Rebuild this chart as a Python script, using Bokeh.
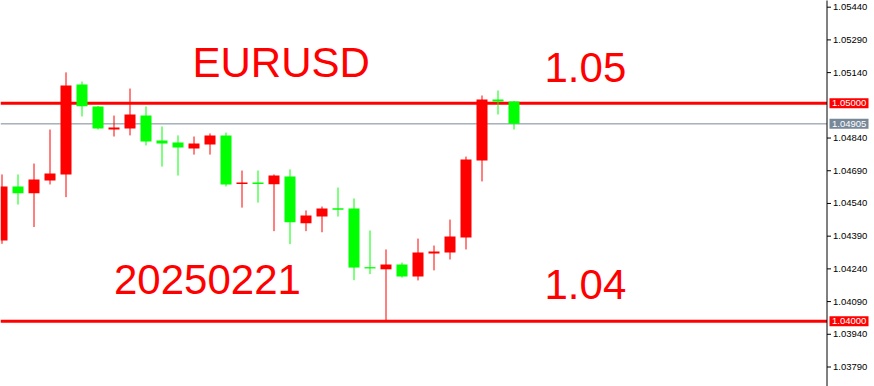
from bokeh.plotting import figure
from bokeh.models import Range1d, Label, ColumnDataSource
from bokeh.core.properties import value
from bokeh.embed import file_html
from bokeh.resources import INLINE

# EURUSD candles (oldest first)
opens = [1.04370, 1.04618, 1.04587, 1.04645, 1.04673, 1.05086, 1.04985, 1.04879, 1.04884, 1.04943,
         1.04829, 1.04820, 1.04792, 1.04810, 1.04852, 1.04629, 1.04636, 1.04628, 1.04664, 1.04449,
         1.04480, 1.04518, 1.04517, 1.04248, 1.04238, 1.04260, 1.04205, 1.04310, 1.04315, 1.04384,
         1.04737, 1.05017, 1.05008]
highs = [1.04673, 1.04673, 1.04723, 1.04879, 1.05141, 1.05099, 1.04987, 1.04943, 1.05067, 1.04985,
         1.04893, 1.04852, 1.04847, 1.04861, 1.04865, 1.04691, 1.04691, 1.04673, 1.04696, 1.04508,
         1.04526, 1.04613, 1.04563, 1.04416, 1.04329, 1.04269, 1.04379, 1.04347, 1.04466, 1.04755,
         1.05035, 1.05058, 1.05010]
lows = [1.04355, 1.04535, 1.04432, 1.04627, 1.04569, 1.04939, 1.04879, 1.04847, 1.04852, 1.04806,
        1.04709, 1.04668, 1.04764, 1.04764, 1.04618, 1.04521, 1.04544, 1.04413, 1.04353, 1.04413,
        1.04408, 1.04480, 1.04188, 1.04216, 1.04003, 1.04200, 1.04187, 1.04233, 1.04283, 1.04329,
        1.04641, 1.04948, 1.04879]
closes = [1.04618, 1.04587, 1.04650, 1.04677, 1.05081, 1.04986, 1.04884, 1.04888, 1.04948, 1.04824,
          1.04815, 1.04797, 1.04815, 1.04852, 1.04627, 1.04636, 1.04629, 1.04668, 1.04454, 1.04485,
          1.04517, 1.04511, 1.04246, 1.04242, 1.04260, 1.04205, 1.04315, 1.04320, 1.04388, 1.04742,
          1.05017, 1.05008, 1.04905]

price_ticks = [1.03790, 1.03940, 1.04090, 1.04240, 1.04390, 1.04540, 1.04690, 1.04840,
               1.05140, 1.05290, 1.05440]
level_high = 1.05000
level_low = 1.04000
last_price = closes[-1]

symbol = "EURUSD"
date_text = "20250221"
high_text = "1.05"
low_text = "1.04"

UP = "#ff0000"
DOWN = "#00ff00"
GRAY = "#778899"
FONT = "Liberation Sans"

# horizontal layout: 16 px per bar, price scale strip on the right
BAR_PX = 16.0
X0 = -0.09375
W, H = 874, 386


def px(sx):
    """x position (in bar units) of a horizontal pixel offset"""
    return X0 + sx / BAR_PX


axis_x = px(826.5)

idx = list(range(len(opens)))
colors = [UP if c >= o else DOWN for o, c in zip(opens, closes)]
src = ColumnDataSource(dict(
    x=idx, open=opens, high=highs, low=lows, close=closes,
    top=[max(o, c) for o, c in zip(opens, closes)],
    bottom=[min(o, c) for o, c in zip(opens, closes)],
    color=colors,
))

p = figure(width=W, height=H, output_backend="svg", toolbar_location=None,
           x_axis_location=None, y_axis_location=None,
           x_range=Range1d(X0, px(W)), y_range=Range1d(1.037006, 1.054707),
           min_border=0)
p.outline_line_color = None
p.grid.visible = False
p.background_fill_color = "white"
p.border_fill_color = "white"

# level lines, ending at the price scale
p.segment(x0=[X0], y0=[last_price], x1=[axis_x], y1=[last_price], line_color=GRAY, line_width=1)
p.segment(x0=[X0, X0], y0=[level_high, level_low], x1=[axis_x, axis_x], y1=[level_high, level_low],
          line_color=UP, line_width=3)

# candles
p.segment(x0="x", y0="low", x1="x", y1="high", source=src, line_color="color", line_width=1)
p.vbar(x="x", top="top", bottom="bottom", width=0.6875, source=src,
       fill_color="color", line_color=None)

# price scale: vertical line, ticks and labels
p.segment(x0=[axis_x], y0=[1.0], x1=[axis_x], y1=[1.1], line_color="black", line_width=1)
p.segment(x0=[axis_x] * len(price_ticks), y0=price_ticks,
          x1=[axis_x + 4 / BAR_PX] * len(price_ticks), y1=price_ticks,
          line_color="black", line_width=1)
p.text(x=[axis_x + 6 / BAR_PX] * len(price_ticks), y=price_ticks,
       text=[f"{t:.5f}" for t in price_ticks],
       text_font=value(FONT), text_font_size="9.5px", text_color="black",
       text_align="left", text_baseline="middle")

# price tags on the scale
tag_vals = [level_high, last_price, level_low]
tag_cols = [UP, GRAY, UP]
p.rect(x=[px(848.5)] * 3, y=tag_vals, width=39, height=10,
       width_units="screen", height_units="screen", fill_color=tag_cols, line_color=None)
p.text(x=[px(831.5)] * 3, y=tag_vals, text=[f"{v:.5f}" for v in tag_vals],
       text_font=value(FONT), text_font_size="9.5px", text_color="white",
       text_align="left", text_baseline="middle")

# annotations
for txt, sx, sy in [(symbol, 192, 324.2), (date_text, 113.5, 107.5),
                    (high_text, 544, 319.2), (low_text, 544, 102)]:
    p.add_layout(Label(x=sx, y=sy, x_units="screen", y_units="screen", text=txt,
                       text_font=FONT, text_font_size="42px", text_color=UP,
                       text_align="left", text_baseline="alphabetic"))

open("out.html", "w").write(file_html(p, INLINE))
